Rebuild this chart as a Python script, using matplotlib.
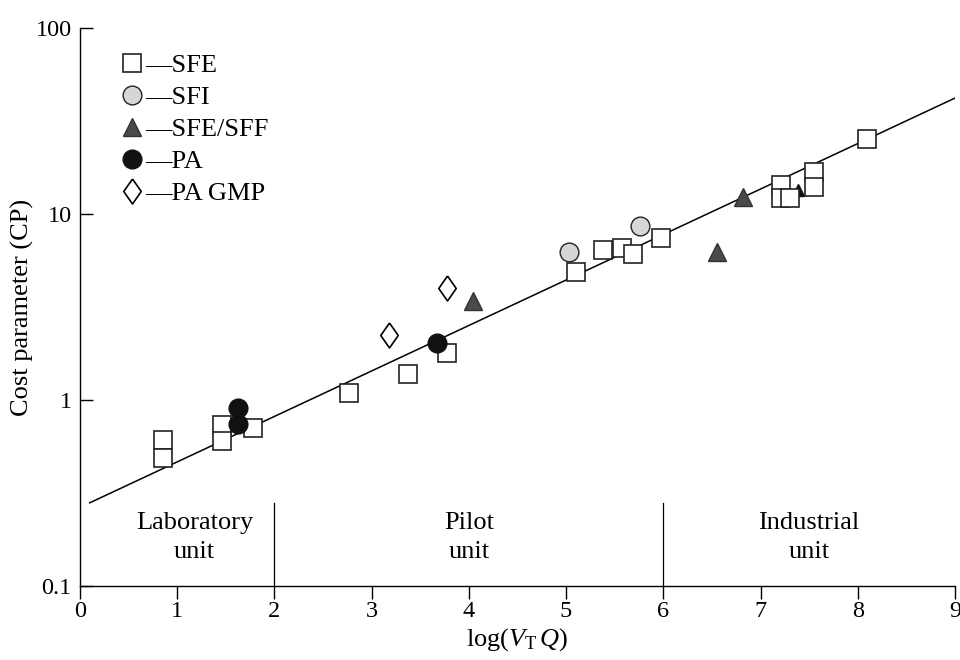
import matplotlib
matplotlib.use("Agg")
import matplotlib.pyplot as plt
from matplotlib.lines import Line2D
import numpy as np

plt.rcParams['font.family'] = ['Liberation Serif', 'DejaVu Serif']
plt.rcParams['mathtext.fontset'] = 'custom'
plt.rcParams['mathtext.rm'] = 'Liberation Serif'
plt.rcParams['mathtext.it'] = 'Liberation Serif:italic'

# ---- data ----
sfe_x = [0.85, 0.85, 1.46, 1.46, 1.78, 2.77, 3.37, 3.78, 5.10, 5.38, 5.57, 5.69, 5.98,
         7.21, 7.21, 7.30, 7.55, 7.55, 8.09]
sfe_y = [0.61, 0.49, 0.73, 0.60, 0.71, 1.09, 1.38, 1.79, 4.88, 6.4, 6.57, 6.1, 7.43,
         14.3, 12.2, 12.2, 16.8, 14.0, 25.3]
sfi_x = [5.03, 5.76]
sfi_y = [6.25, 8.6]
sff_x = [4.04, 6.82, 6.55]
sff_y = [3.4, 12.3, 6.25]
sff_small_x = [7.38]
sff_small_y = [13.5]
pa_x = [1.63, 1.63, 3.67]
pa_y = [0.91, 0.74, 2.02]
gmp_x = [3.18, 3.78]
gmp_y = [2.24, 4.0]

fit_x = [0.1, 9.0]
fit_y = [0.28, 42.0]

dividers = [2.0, 6.0]
region_labels = ["Laboratory\nunit", "Pilot\nunit", "Industrial\nunit"]
region_x = [1.18, 4.0, 7.5]

xticks = [0, 1, 2, 3, 4, 5, 6, 7, 8, 9]
yticks = [0.1, 1, 10, 100]
ytick_labels = ["0.1", "1", "10", "100"]

FS = 19
TFS = 17.5

# ---- figure ----
fig = plt.figure(figsize=(9.6, 6.6), dpi=100)
ax = fig.add_axes([0.0833, 0.1121, 0.9115, 0.8455])
ax.set_yscale('log')
ax.set_xlim(0, 9)
ax.set_ylim(0.1, 100)

ax.plot(fit_x, fit_y, color='black', lw=1.1, zorder=1)
for d in dividers:
    ax.plot([d, d], [0.1, 0.28], color='black', lw=0.9, zorder=1)
for lab, xx in zip(region_labels, region_x):
    ax.text(xx, 0.182, lab, ha='center', va='center', fontsize=FS, linespacing=1.45)

ec = '#222222'
diamond = [(0, 1), (0.7, 0), (0, -1), (-0.7, 0), (0, 1)]
ax.plot(sff_small_x, sff_small_y, ls='none', marker='^', ms=9, mfc='#111111', mec='#111111', zorder=2)
ax.plot(sfe_x, sfe_y, ls='none', marker='s', ms=12.5, mfc='white', mec=ec, mew=1.2, zorder=3)
ax.plot(sfi_x, sfi_y, ls='none', marker='o', ms=13.5, mfc='#d6d6d6', mec=ec, mew=1.0, zorder=3)
ax.plot(sff_x, sff_y, ls='none', marker='^', ms=12.5, mfc='#4a4a4a', mec='#333333', mew=1.0, zorder=3)
ax.plot(pa_x, pa_y, ls='none', marker='o', ms=13.5, mfc='#111111', mec='#111111', zorder=3)
ax.plot(gmp_x, gmp_y, ls='none', marker=diamond, ms=18, mfc='white', mec='black', mew=1.2, zorder=3)

handles = [
    Line2D([], [], ls='none', marker='s', ms=12.5, mfc='white', mec=ec, mew=1.2),
    Line2D([], [], ls='none', marker='o', ms=13.5, mfc='#d6d6d6', mec=ec, mew=1.0),
    Line2D([], [], ls='none', marker='^', ms=12.5, mfc='#4a4a4a', mec='#333333', mew=1.0),
    Line2D([], [], ls='none', marker='o', ms=13.5, mfc='#111111', mec='#111111'),
    Line2D([], [], ls='none', marker=diamond, ms=18, mfc='white', mec='black', mew=1.2),
]
labels = ["\u2014SFE", "\u2014SFI", "\u2014SFE/SFF", "\u2014PA", "\u2014PA GMP"]
ax.legend(handles, labels, loc='upper left', bbox_to_anchor=(0.028, 0.982), frameon=False,
          fontsize=FS, handlelength=0.9, handletextpad=0.05, labelspacing=0.32,
          borderaxespad=0.2)

for s in ['top', 'right']:
    ax.spines[s].set_visible(False)
ax.spines['left'].set_linewidth(1.0)
ax.spines['bottom'].set_linewidth(1.0)

ax.set_xticks(xticks)
ax.set_xticklabels([str(t) for t in xticks])
ax.set_yticks(yticks)
ax.set_yticklabels(ytick_labels)
ax.yaxis.set_minor_locator(matplotlib.ticker.NullLocator())
ax.tick_params(axis='x', direction='out', length=9, width=1.0, labelsize=TFS, pad=2)
ax.tick_params(axis='y', direction='in', length=9, width=1.0, labelsize=TFS, pad=6)

ax.set_xlabel(r'log($V_{\mathrm{T}}\,Q$)', fontsize=FS, labelpad=3)
ax.set_ylabel('Cost parameter (CP)', fontsize=FS)
ax.yaxis.set_label_coords(-0.052, 0.5)

fig.savefig('out.png', dpi=100)
